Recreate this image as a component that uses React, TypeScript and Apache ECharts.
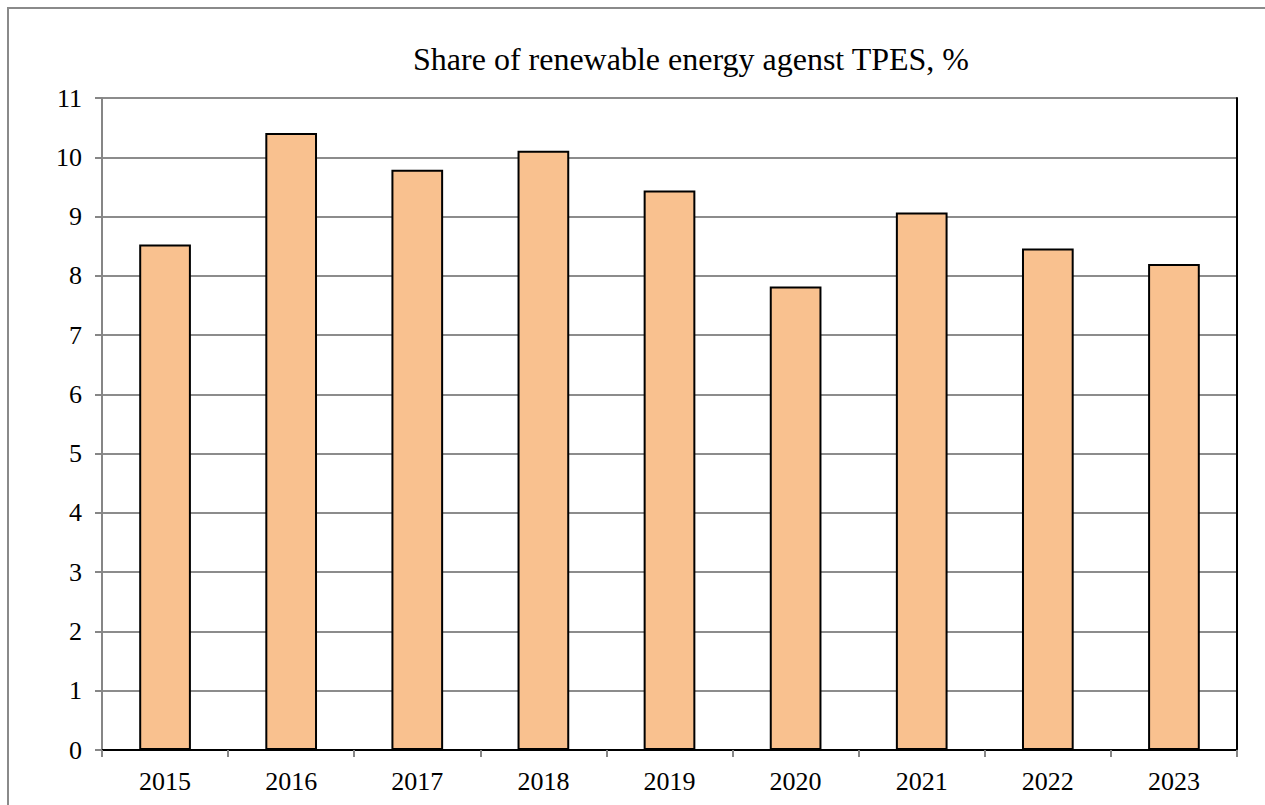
import React, { useEffect, useRef } from "react";
import * as echarts from "echarts";

const title = "Share of renewable energy agenst TPES, %";
const years = ["2015", "2016", "2017", "2018", "2019", "2020", "2021", "2022", "2023"];
const shares = [8.53, 10.41, 9.79, 10.11, 9.44, 7.82, 9.07, 8.46, 8.2];

const FONT = "'Liberation Serif', 'Times New Roman', serif";

export default function App() {
  const ref = useRef<HTMLDivElement>(null);
  useEffect(() => {
    if (!ref.current) return;
    const chart = echarts.init(ref.current, undefined, { renderer: "svg" });
    chart.setOption({
      animation: false,
      backgroundColor: "#ffffff",
      title: {
        text: title,
        left: 686,
        textAlign: "center",
        top: 38,
        textStyle: { fontFamily: FONT, fontSize: 32, fontWeight: "normal", color: "#000" },
      },
      graphic: [
        {
          type: "rect",
          shape: { x: 8, y: 8, width: 1400, height: 1000 },
          style: { fill: "none", stroke: "#8a8a8a", lineWidth: 2 },
          silent: true,
        },
      ],
      grid: { left: 102, right: 28, top: 98, bottom: 55 },
      xAxis: [
        {
          type: "category",
          data: years,
          position: "bottom",
          axisLine: { show: true, lineStyle: { color: "#868686", width: 2 } },
          axisTick: { show: true, length: 7, lineStyle: { color: "#868686", width: 2 } },
          axisLabel: { fontFamily: FONT, fontSize: 26, color: "#000", margin: 18 },
          splitLine: { show: false },
        },
        {
          type: "category",
          data: years,
          position: "top",
          axisLine: { show: true, lineStyle: { color: "#000", width: 2 } },
          axisTick: { show: false },
          axisLabel: { show: false },
        },
      ],
      yAxis: [
        {
          type: "value",
          min: 0,
          max: 11,
          interval: 1,
          position: "left",
          axisLine: { show: true, lineStyle: { color: "#868686", width: 2 } },
          axisTick: { show: true, length: 7, lineStyle: { color: "#868686", width: 2 } },
          axisLabel: { fontFamily: FONT, fontSize: 26, color: "#000", margin: 20 },
          splitLine: { show: true, lineStyle: { color: "#8c8c8c", width: 2 } },
        },
        {
          type: "value",
          min: 0,
          max: 11,
          interval: 1,
          position: "right",
          axisLine: { show: true, lineStyle: { color: "#000", width: 2 } },
          axisTick: { show: false },
          axisLabel: { show: false },
          splitLine: { show: false },
        },
      ],
      series: [
        {
          type: "bar",
          data: shares,
          xAxisIndex: 0,
          yAxisIndex: 0,
          barWidth: "41%",
          itemStyle: { color: "#F9C18F", borderColor: "#000", borderWidth: 2 },
          z: 3,
        },
      ],
    });
    return () => chart.dispose();
  }, []);
  return (
    <div
      ref={ref}
      style={{ position: "fixed", left: 0, top: 0, width: 1265, height: 805 }}
    />
  );
}
